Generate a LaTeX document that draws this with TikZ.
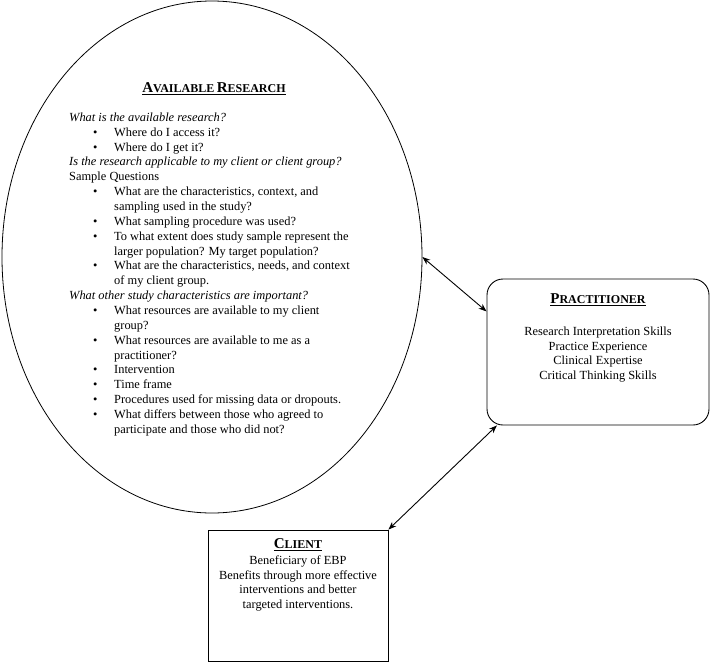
\documentclass[tikz,border=0pt]{standalone}
\usepackage{fontspec}
\setmainfont{Liberation Serif}
\usetikzlibrary{shapes.geometric,arrows.meta}
\newcommand\fsc[2]{{\fontsize{15}{17}\selectfont #1}{\fontsize{12}{14}\selectfont #2}}
\newcommand\bi[1]{\hspace*{24pt}\makebox[21pt][l]{\textbullet}#1}
\newcommand\ci[1]{\hspace*{45pt}#1}
\begin{document}
\begin{tikzpicture}[x=1pt,y=-1pt,
  body/.style={font=\fontsize{12.4}{14.86}\selectfont, inner sep=0pt},
  ttl/.style={font=\bfseries, inner sep=0pt},
  conn/.style={{Stealth[length=8pt,width=6pt]}-{Stealth[length=8pt,width=6pt]}, line width=0.9pt}]
\useasboundingbox (0,0) rectangle (710,662);
\node[draw, ellipse, line width=0.8pt, minimum width=420pt, minimum height=512pt, inner sep=0pt] (ell) at (212,257) {};
\node[draw, rounded corners=16pt, line width=0.9pt, minimum width=222pt, minimum height=146pt, inner sep=0pt] (prac) at (598,352) {};
\node[draw, line width=0.9pt, minimum width=180pt, minimum height=131pt, inner sep=0pt] (cli) at (298,595.5) {};
% titles
\node[ttl] (ttlar) at (214,89) {\underline{\fsc{A}{VAILABLE} \fsc{R}{ESEARCH}}};
\node[ttl] (ttlpr) at (598,300) {\underline{\fsc{P}{RACTITIONER}}};
\node[ttl] (ttlcl) at (298,545) {\underline{\fsc{C}{LIENT}}};
% research text
\node[body, align=left, anchor=north west] (artext) at (69,112.5) {%
\textit{What is the available research?}\\
\bi{Where do I access it?}\\
\bi{Where do I get it?}\\
\textit{Is the research applicable to my client or client group?}\\
Sample Questions\\
\bi{What are the characteristics, context, and}\\
\ci{sampling used in the study?}\\
\bi{What sampling procedure was used?}\\
\bi{To what extent does study sample represent the}\\
\ci{larger population? My target population?}\\
\bi{What are the characteristics, needs, and context}\\
\ci{of my client group.}\\
\textit{What other study characteristics are important?}\\
\bi{What resources are available to my client}\\
\ci{group?}\\
\bi{What resources are available to me as a}\\
\ci{practitioner?}\\
\bi{Intervention}\\
\bi{Time frame}\\
\bi{Procedures used for missing data or dropouts.}\\
\bi{What differs between those who agreed to}\\
\ci{participate and those who did not?}};
% practitioner text
\node[body, align=center, font=\fontsize{12.4}{14.4}\selectfont, anchor=north] (prtext) at (598,327) {%
Research Interpretation Skills\\
Practice Experience\\
Clinical Expertise\\
Critical Thinking Skills};
% client text
\node[body, align=center, font=\fontsize{12.4}{14.4}\selectfont, anchor=north] (cltext) at (298,556) {%
Beneficiary of EBP\\
Benefits through more effective\\
interventions and better\\
targeted interventions.};
% connectors
\draw[conn] (ell.east) -- (prac.160.6);
\draw[conn] (prac.216.5) -- (cli.north east);
\end{tikzpicture}
\end{document}
